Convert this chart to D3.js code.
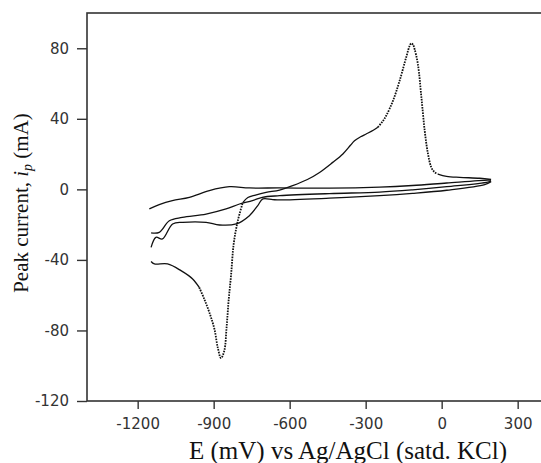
<!DOCTYPE html>
<html>
<head>
<meta charset="utf-8">
<script src="https://cdn.jsdelivr.net/npm/d3@7"></script>
<style>
  html, body { margin: 0; padding: 0; background: #fff; }
  svg { display: block; }
</style>
</head>
<body>
<div id="chart"></div>
<script>
// axis ticks
const xTicks = [-1200, -900, -600, -300, 0, 300];
const yTicks = [-120, -80, -40, 0, 40, 80];

// big voltammogram, split where the trace turns dotted
const bigTail = [[-1147, -40.9], [-1134, -42.3], [-1082, -42.3], [-1029, -46.1], [-983, -50.8], [-957, -55.6]];
const bigDrop = [[-957, -55.6], [-937, -62.2], [-917, -69.8], [-897, -79.2], [-884, -89.6], [-871, -95.7],
  [-858, -91.5], [-849, -78.3], [-841, -63.1], [-831, -48], [-821, -31], [-805, -18], [-785, -7.5]];
const bigFoot = [[-785, -7.5], [-765, -4.6], [-735, -3.2], [-693, -1.7], [-640, -0.4], [-588, 2.1], [-530, 5.6],
  [-482, 9.6], [-430, 15.3], [-390, 20.1], [-360, 25], [-344, 27.6], [-320, 29.8], [-298, 31.4], [-270, 33.5],
  [-252, 35.2]];
const bigPeak = [[-252, 35.2], [-235, 38.2], [-219, 41.8], [-192, 50.3], [-166, 61.6], [-140, 74.9], [-126, 81.5],
  [-120, 82.8], [-113, 82], [-107, 79.6], [-94, 71.1], [-80, 52.2], [-67, 33.3], [-54, 20.1], [-41, 12.5],
  [-28, 9.8], [-15, 8.7]];
const bigReturn = [[-15, 8.7], [19, 7.4], [71, 6.8], [150, 6.3], [195, 5.6]];

// the three later cycles, running from the right end back to -1150 mV
const cycleTop = [[195, 5.2], [182, 5.2], [20, 3.6], [-115, 2.2], [-245, 1.3], [-443, 0.7], [-640, 0.8], [-759, 0.8],
  [-838, 1.5], [-917, -0.7], [-996, -4.5], [-1063, -6.4], [-1115, -8.7], [-1154, -11.1]];
const cycleMid = [[195, 4.8], [182, 4.1], [20, 1.5], [-115, -0.3], [-245, -1.6], [-443, -2.4], [-640, -3.6],
  [-708, -4.5], [-747, -6.4], [-798, -8.3], [-851, -11.1], [-930, -14], [-1024, -15.9], [-1075, -17.8],
  [-1115, -24.4], [-1147, -24.7]];
const cycleLow = [[195, 4.4], [170, 2.7], [20, -0.5], [-115, -2.3], [-245, -3.6], [-443, -5], [-640, -6],
  [-667, -5.8], [-706, -5.4], [-726, -9.2], [-759, -14.9], [-811, -19.6], [-877, -20.2], [-930, -18.7],
  [-1022, -18.7], [-1062, -19.6], [-1102, -28.1], [-1128, -27.2], [-1147, -32.9]];

const width = 541;
const height = 463;
const margin = { left: 87, top: 13 };
const plotW = 456;
const plotH = 388;

const svg = d3.select("#chart")
  .append("svg")
  .attr("width", width)
  .attr("height", height);

const x = d3.scaleLinear().domain([-1400, 400]).range([margin.left, margin.left + plotW]);
const y = d3.scaleLinear().domain([-120, 100]).range([margin.top + plotH, margin.top]);

// frame
svg.append("rect")
  .attr("x", x(-1400))
  .attr("y", y(100))
  .attr("width", x(400) - x(-1400))
  .attr("height", y(-120) - y(100))
  .attr("fill", "none")
  .attr("stroke", "#333")
  .attr("stroke-width", 1.6);

// axes (plain hyphen, no thousands comma)
const fmt = d => String(d);
const yAxis = svg.append("g")
  .attr("transform", `translate(${x(-1400)},0)`)
  .call(d3.axisLeft(y).tickValues(yTicks).tickFormat(fmt).tickSize(10).tickSizeOuter(0).tickPadding(8));
const xAxis = svg.append("g")
  .attr("transform", `translate(0,${y(-120)})`)
  .call(d3.axisBottom(x).tickValues(xTicks).tickFormat(fmt).tickSize(8).tickSizeOuter(0).tickPadding(9));

[xAxis, yAxis].forEach(g => {
  g.select(".domain").remove();
  g.selectAll(".tick line").attr("stroke", "#333").attr("stroke-width", 1.4);
  g.selectAll(".tick text")
    .attr("fill", "#333")
    .style("font-family", "'DejaVu Sans', sans-serif")
    .style("font-size", "15px");
});

// curves
const line = d3.line().x(d => x(d[0])).y(d => y(d[1])).curve(d3.curveCatmullRom.alpha(0.5));

function draw(data, dotted) {
  const p = svg.append("path")
    .datum(data)
    .attr("d", line)
    .attr("fill", "none")
    .attr("stroke", "#111")
    .attr("stroke-width", dotted ? 1.8 : 1.3)
    .attr("stroke-linejoin", "round");
  if (dotted) p.attr("stroke-dasharray", "1.6,1.1");
}

draw(cycleTop, false);
draw(cycleMid, false);
draw(cycleLow, false);
draw(bigTail, false);
draw(bigDrop, true);
draw(bigFoot, false);
draw(bigPeak, true);
draw(bigReturn, false);

// axis titles
const yTitle = svg.append("text")
  .attr("transform", "translate(28,203) rotate(-90)")
  .attr("text-anchor", "middle")
  .attr("fill", "#111")
  .style("font-family", "'Liberation Serif', 'Times New Roman', serif")
  .style("font-size", "21px");
yTitle.append("tspan").text("Peak current, ");
yTitle.append("tspan").style("font-style", "italic").text("i");
yTitle.append("tspan").style("font-style", "italic").style("font-size", "14px").attr("dy", 4).text("p");
yTitle.append("tspan").attr("dy", -4).text(" (mA)");

svg.append("text")
  .attr("x", 348)
  .attr("y", 459)
  .attr("text-anchor", "middle")
  .attr("fill", "#111")
  .style("font-family", "'Liberation Serif', 'Times New Roman', serif")
  .style("font-size", "25px")
  .text("E (mV) vs Ag/AgCl (satd. KCl)");
</script>
</body>
</html>
